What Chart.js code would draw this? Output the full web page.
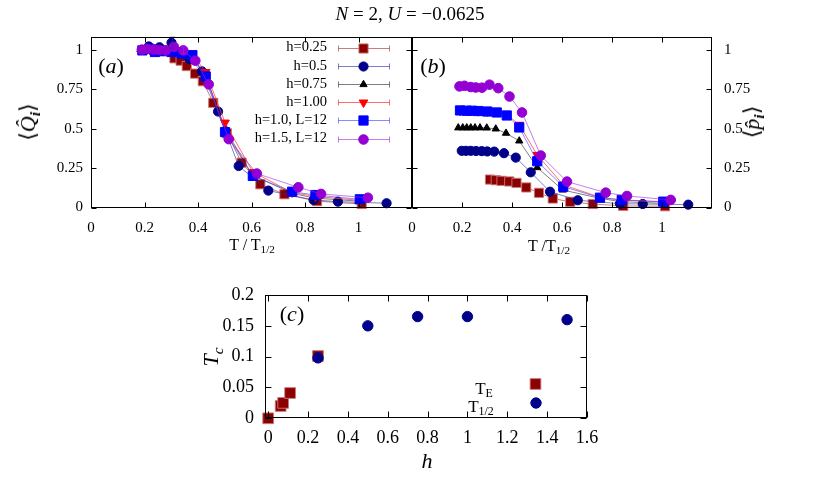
<!DOCTYPE html>
<html><head><meta charset="utf-8">
<script src="https://cdn.jsdelivr.net/npm/chart.js@4.4.1/dist/chart.umd.min.js"></script>
<style>
html,body{margin:0;padding:0;background:#fff;}
#wrap{position:relative;width:830px;height:483px;overflow:hidden;font-family:"Liberation Serif","DejaVu Serif",serif;color:#000;}
canvas{position:absolute;left:0;top:0;}
.t{position:absolute;white-space:nowrap;line-height:1;transform:translate(-50%,-50%);}
.rot{transform:translate(-50%,-50%) rotate(-90deg);}
.t sub{font-size:70%;vertical-align:-0.3em;line-height:0;}
</style></head><body>
<div id="wrap">
<canvas id="ca" width="830" height="483"></canvas>
<canvas id="cb" width="830" height="483"></canvas>
<canvas id="cc" width="830" height="483"></canvas>
<div class="t" style="left:410px;top:13px;font-size:19px;"><i>N</i> = 2, <i>U</i> = −0.0625</div>
<div class="t" style="left:111px;top:66px;font-size:22px;">(<i>a</i>)</div>
<div class="t" style="left:433px;top:66px;font-size:22px;">(<i>b</i>)</div>
<div class="t" style="left:292px;top:314px;font-size:22px;">(<i>c</i>)</div>
<div class="t" style="left:252px;top:245px;font-size:16px;">T / T<sub>1/2</sub></div>
<div class="t" style="left:549px;top:246px;font-size:16px;">T /T<sub>1/2</sub></div>
<div class="t rot" style="left:28px;top:122px;font-size:22px;">⟨<i>Q̂</i><sub><b><i>i</i></b></sub>⟩</div>
<div class="t rot" style="left:752px;top:122px;font-size:22px;">⟨<i>p̂</i><sub><b><i>i</i></b></sub>⟩</div>
<div class="t rot" style="left:211px;top:357px;font-size:22px;"><i>T<sub>c</sub></i></div>
<div class="t" style="left:427px;top:461px;font-size:22px;"><i>h</i></div>
<div class="t" style="left:484px;top:388px;font-size:17px;">T<sub>E</sub></div>
<div class="t" style="left:481px;top:406px;font-size:17px;">T<sub>1/2</sub></div>
</div>
<script>
// ---------------- DATA ----------------
const xTicksAB = [0, 0.2, 0.4, 0.6, 0.8, 1];
const yTicksAB = [0, 0.25, 0.5, 0.75, 1];
const xTicksC = [0, 0.2, 0.4, 0.6, 0.8, 1, 1.2, 1.4, 1.6];
const yTicksC = [0, 0.05, 0.1, 0.15, 0.2];

const seriesNames = ['h=0.25', 'h=0.5', 'h=0.75', 'h=1.00', 'h=1.0, L=12', 'h=1.5, L=12'];

// h=0.25
const T25 = [0.312, 0.335, 0.358, 0.389, 0.418, 0.457, 0.508, 0.563, 0.633, 0.723, 0.845, 1.012];
const Q25 = [0.945, 0.93, 0.896, 0.848, 0.8, 0.663, 0.47, 0.284, 0.147, 0.084, 0.04, 0.022];
const P25 = [0.177, 0.173, 0.169, 0.165, 0.156, 0.127, 0.093, 0.057, 0.036, 0.022, 0.01, 0.008];
// h=0.5
const T50 = [0.199, 0.216, 0.235, 0.256, 0.279, 0.301, 0.329, 0.368, 0.415, 0.475, 0.552, 0.663, 0.832, 0.923, 1.105];
const Q50 = [0.998, 1.02, 1.0, 1.015, 0.995, 1.044, 0.985, 0.94, 0.862, 0.608, 0.263, 0.107, 0.048, 0.037, 0.027];
const P50 = [0.359, 0.359, 0.359, 0.358, 0.357, 0.355, 0.354, 0.344, 0.316, 0.223, 0.1, 0.046, 0.024, 0.022, 0.018];
const E50 = [0, 0, 0, 0, 0, 0.035, 0, 0, 0, 0, 0, 0, 0, 0, 0];
// h=0.75
const T75 = [0.185, 0.203, 0.219, 0.235, 0.252, 0.272, 0.299, 0.335, 0.376, 0.429, 0.501, 0.603, 0.752, 0.835, 1.0];
const Q75 = [1.0, 1.0, 0.998, 1.0, 0.995, 0.99, 0.99, 0.98, 0.955, 0.835, 0.5, 0.205, 0.09, 0.06, 0.04];
const P75 = [0.505, 0.505, 0.505, 0.505, 0.505, 0.505, 0.504, 0.498, 0.471, 0.422, 0.253, 0.111, 0.058, 0.037, 0.027];
// h=1.00
const T100 = [0.192, 0.219, 0.239, 0.265, 0.301, 0.339, 0.379, 0.429, 0.501, 0.605, 0.752, 0.839, 1.005];
const Q100 = [1.0, 1.0, 0.995, 0.995, 0.99, 0.985, 0.97, 0.858, 0.538, 0.225, 0.095, 0.07, 0.045];
const P100 = [0.612, 0.612, 0.612, 0.61, 0.608, 0.605, 0.59, 0.524, 0.333, 0.143, 0.065, 0.047, 0.035];
// h=1.0, L=12
const TB = [0.192, 0.219, 0.239, 0.265, 0.301, 0.339, 0.379, 0.429, 0.501, 0.605, 0.752, 0.839, 1.005];
const QB = [0.995, 1.005, 0.985, 0.99, 0.985, 0.975, 0.965, 0.83, 0.478, 0.2, 0.1, 0.079, 0.052];
const PB = [0.615, 0.613, 0.613, 0.611, 0.608, 0.602, 0.583, 0.507, 0.293, 0.132, 0.062, 0.048, 0.037];
// h=1.5, L=12
const TM = [0.19, 0.21, 0.235, 0.255, 0.28, 0.31, 0.345, 0.39, 0.44, 0.515, 0.62, 0.775, 0.86, 1.035];
const QM = [1.0, 1.005, 1.0, 0.998, 0.995, 1.017, 0.995, 0.93, 0.78, 0.433, 0.215, 0.128, 0.086, 0.062];
const PM = [0.767, 0.771, 0.763, 0.76, 0.759, 0.778, 0.756, 0.703, 0.602, 0.329, 0.164, 0.094, 0.073, 0.048];
const EM = [0, 0, 0, 0, 0, 0, 0.022, 0, 0, 0, 0, 0, 0, 0];

// panel (c)
const hE = [0, 0.0625, 0.075, 0.11, 0.25];
const TcE = [0, 0.02, 0.025, 0.041, 0.101];
const hHalf = [0.25, 0.5, 0.75, 1.0, 1.5];
const TcHalf = [0.098, 0.15, 0.165, 0.165, 0.16];

// ---------------- STYLES ----------------
const FONT = '"Liberation Serif", "DejaVu Serif", serif';
const styles = [
  {color:'#8b0000', line:'rgba(160,40,40,0.6)', border:'rgba(205,120,120,0.9)', shape:'rect', r:6.5, rot:0, order:6},
  {color:'#00008b', line:'rgba(40,40,170,0.6)', border:'#00008b', shape:'circle', r:4.6, rot:0, order:5},
  {color:'#000000', line:'rgba(0,0,0,0.5)', border:'#000000', shape:'triangle', r:4.2, rot:0, order:4},
  {color:'#ff0000', line:'rgba(255,60,60,0.75)', border:'#ff0000', shape:'triangle', r:5, rot:180, order:3},
  {color:'#0000ff', line:'rgba(60,60,255,0.6)', border:'#0000ff', shape:'rect', r:6.5, rot:0, order:2},
  {color:'#9400d3', line:'rgba(160,40,220,0.6)', border:'#9400d3', shape:'circle', r:4.8, rot:0, order:1}
];

function pts(xs, ys){ return xs.map((x, i) => ({x: x, y: ys[i]})); }

const setsA = [[T25,Q25,null],[T50,Q50,E50],[T75,Q75,null],[T100,Q100,null],[TB,QB,null],[TM,QM,EM]];
const setsB = [[T25,P25,null],[T50,P50,null],[T75,P75,null],[T100,P100,null],[TB,PB,null],[TM,PM,null]];

function makeDatasets(sets){
  return sets.map((s, i) => {
    const st = styles[i];
    return {
      label: seriesNames[i], data: pts(s[0], s[1]), errY: s[2],
      showLine: true, borderColor: st.line, borderWidth: 1,
      backgroundColor: st.color, pointBackgroundColor: st.color,
      pointBorderColor: st.border, pointBorderWidth: 1,
      pointStyle: st.shape, pointRadius: st.r, pointRotation: st.rot,
      clip: false, order: st.order
    };
  });
}

function drawMarker(ctx, shape, x, y, r, rot, fill, stroke){
  ctx.save();
  ctx.fillStyle = fill; ctx.strokeStyle = stroke; ctx.lineWidth = 1;
  ctx.beginPath();
  if (shape === 'rect') {
    const s = Math.SQRT1_2 * r; ctx.rect(x - s, y - s, 2*s, 2*s);
  } else if (shape === 'circle') {
    ctx.arc(x, y, r, 0, Math.PI*2);
  } else {
    let a = rot * Math.PI / 180;
    ctx.moveTo(x + Math.sin(a)*r, y - Math.cos(a)*r);
    a += 2*Math.PI/3; ctx.lineTo(x + Math.sin(a)*r, y - Math.cos(a)*r);
    a += 2*Math.PI/3; ctx.lineTo(x + Math.sin(a)*r, y - Math.cos(a)*r);
    ctx.closePath();
  }
  ctx.fill(); ctx.stroke();
  ctx.restore();
}

const boxPlugin = {
  id: 'box',
  afterDraw(chart, args, opts){
    const ctx = chart.ctx, a = chart.chartArea;
    const L = Math.round(a.left) + 0.5, R = Math.round(a.right) - 0.5;
    const T = Math.round(a.top) + 0.5, B = Math.round(a.bottom) - 0.5;
    const len = opts.len || 5;
    ctx.save();
    ctx.strokeStyle = '#000'; ctx.lineWidth = 1;
    ctx.strokeRect(L, T, R - L, B - T);
    ctx.beginPath();
    const xs = chart.scales.x, ys = chart.scales.y;
    xs.ticks.forEach(t => {
      const p = Math.round(xs.getPixelForValue(t.value)) + 0.5;
      ctx.moveTo(p, B); ctx.lineTo(p, B - len);
      ctx.moveTo(p, T); ctx.lineTo(p, T + len);
    });
    ys.ticks.forEach(t => {
      const p = Math.round(ys.getPixelForValue(t.value)) + 0.5;
      ctx.moveTo(L, p); ctx.lineTo(L + len, p);
      ctx.moveTo(R, p); ctx.lineTo(R - len, p);
    });
    ctx.stroke();
    ctx.restore();
  }
};

const errPlugin = {
  id: 'err',
  afterDatasetsDraw(chart){
    const ctx = chart.ctx, xs = chart.scales.x, ys = chart.scales.y;
    chart.data.datasets.forEach(ds => {
      if (!ds.errY) return;
      ctx.save(); ctx.strokeStyle = ds.borderColor; ctx.lineWidth = 1; ctx.beginPath();
      ds.data.forEach((p, i) => {
        const e = ds.errY[i]; if (!e) return;
        const x = Math.round(xs.getPixelForValue(p.x)) + 0.5;
        const y1 = ys.getPixelForValue(p.y + e), y2 = ys.getPixelForValue(p.y - e);
        ctx.moveTo(x, y1); ctx.lineTo(x, y2);
        ctx.moveTo(x - 3, y1); ctx.lineTo(x + 3, y1);
        ctx.moveTo(x - 3, y2); ctx.lineTo(x + 3, y2);
      });
      ctx.stroke(); ctx.restore();
    });
  }
};

const legendAPlugin = {
  id: 'legA',
  afterDatasetsDraw(chart){
    const ctx = chart.ctx, a = chart.chartArea;
    ctx.save();
    ctx.font = '14.5px ' + FONT; ctx.textAlign = 'right'; ctx.textBaseline = 'middle'; ctx.fillStyle = '#000';
    seriesNames.forEach((name, i) => {
      const st = styles[i];
      const y = a.top + 10.5 + i * 18.2;
      ctx.fillText(name, a.left + 236, y);
      const x1 = a.left + 247.5, x2 = a.left + 298.5, xm = a.left + 272.5;
      const yy = Math.round(y) + 0.5;
      ctx.strokeStyle = st.line; ctx.lineWidth = 1;
      ctx.beginPath();
      ctx.moveTo(x1, yy); ctx.lineTo(x2, yy);
      ctx.moveTo(x1, yy - 3); ctx.lineTo(x1, yy + 3);
      ctx.moveTo(x2, yy - 3); ctx.lineTo(x2, yy + 3);
      ctx.stroke();
      drawMarker(ctx, st.shape, xm, yy, st.r, st.rot, st.color, st.border);
    });
    ctx.restore();
  }
};

function tickCfg(arr, size, pad){
  return {
    afterBuildTicks: s => { s.ticks = arr.map(v => ({value: v})); },
    grid: {display: false, drawTicks: false},
    border: {display: false},
    ticks: {font: {family: FONT, size: size}, color: '#000', padding: pad, maxRotation: 0, autoSkip: false,
            callback: v => String(v)}
  };
}

function baseOptions(pad){
  return {
    responsive: false, animation: false, devicePixelRatio: 1,
    layout: {padding: pad},
    plugins: {legend: {display: false}, tooltip: {enabled: false}, box: {len: 5}}
  };
}

// ---------- Panel (a) ----------
{
  const opt = baseOptions({left: 31, top: 37, right: 830 - 412, bottom: 483 - 207.5 - 30});
  opt.scales = {
    x: Object.assign({type: 'linear', min: 0, max: 1.2, afterFit: s => { s.height = 30; }}, tickCfg(xTicksAB, 15, 12)),
    y: Object.assign({type: 'linear', min: 0, max: 1.08, afterFit: s => { s.width = 60; }}, tickCfg(yTicksAB, 15, 8))
  };
  new Chart(document.getElementById('ca'), {
    type: 'scatter', data: {datasets: makeDatasets(setsA)}, options: opt,
    plugins: [errPlugin, legendAPlugin, boxPlugin]
  });
}
// ---------- Panel (b) ----------
{
  const opt = baseOptions({left: 412, top: 37, right: 830 - 712 - 60, bottom: 483 - 207.5 - 30});
  opt.scales = {
    x: Object.assign({type: 'linear', min: 0, max: 1.2, afterFit: s => { s.height = 30; }}, tickCfg(xTicksAB, 15, 12)),
    y: Object.assign({type: 'linear', position: 'right', min: 0, max: 1.08, afterFit: s => { s.width = 60; }}, tickCfg(yTicksAB, 15, 12))
  };
  new Chart(document.getElementById('cb'), {
    type: 'scatter', data: {datasets: makeDatasets(setsB)}, options: opt,
    plugins: [errPlugin, boxPlugin]
  });
}
// ---------- Panel (c) ----------
{
  const legendCPlugin = {
    id: 'legC',
    afterDatasetsDraw(chart){
      const ctx = chart.ctx, a = chart.chartArea;
      drawMarker(ctx, 'rect', a.left + 270.5, a.top + 89, 7.6, 0, '#8b0000', 'rgba(205,120,120,0.9)');
      drawMarker(ctx, 'circle', a.left + 271, a.top + 108, 5.2, 0, '#00008b', '#00008b');
    }
  };
  const opt = baseOptions({left: 205, top: 295, right: 830 - 587, bottom: 483 - 418.3 - 30});
  opt.plugins.box = {len: 6};
  opt.scales = {
    x: Object.assign({type: 'linear', min: -0.016, max: 1.6, afterFit: s => { s.height = 30; }}, tickCfg(xTicksC, 18, 9)),
    y: Object.assign({type: 'linear', min: 0, max: 0.2, afterFit: s => { s.width = 60; }}, tickCfg(yTicksC, 18, 11))
  };
  new Chart(document.getElementById('cc'), {
    type: 'scatter',
    data: {datasets: [
      {label: 'T_E', data: pts(hE, TcE), pointStyle: 'rect', pointRadius: 7.6,
       pointBackgroundColor: '#8b0000', pointBorderColor: 'rgba(205,120,120,0.9)', pointBorderWidth: 1,
       backgroundColor: '#8b0000', clip: false, order: 2},
      {label: 'T_1/2', data: pts(hHalf, TcHalf), pointStyle: 'circle', pointRadius: 5.2,
       pointBackgroundColor: '#00008b', pointBorderColor: '#00008b', pointBorderWidth: 1,
       backgroundColor: '#00008b', clip: false, order: 1}
    ]},
    options: opt,
    plugins: [legendCPlugin, boxPlugin]
  });
}
</script>
</body></html>
